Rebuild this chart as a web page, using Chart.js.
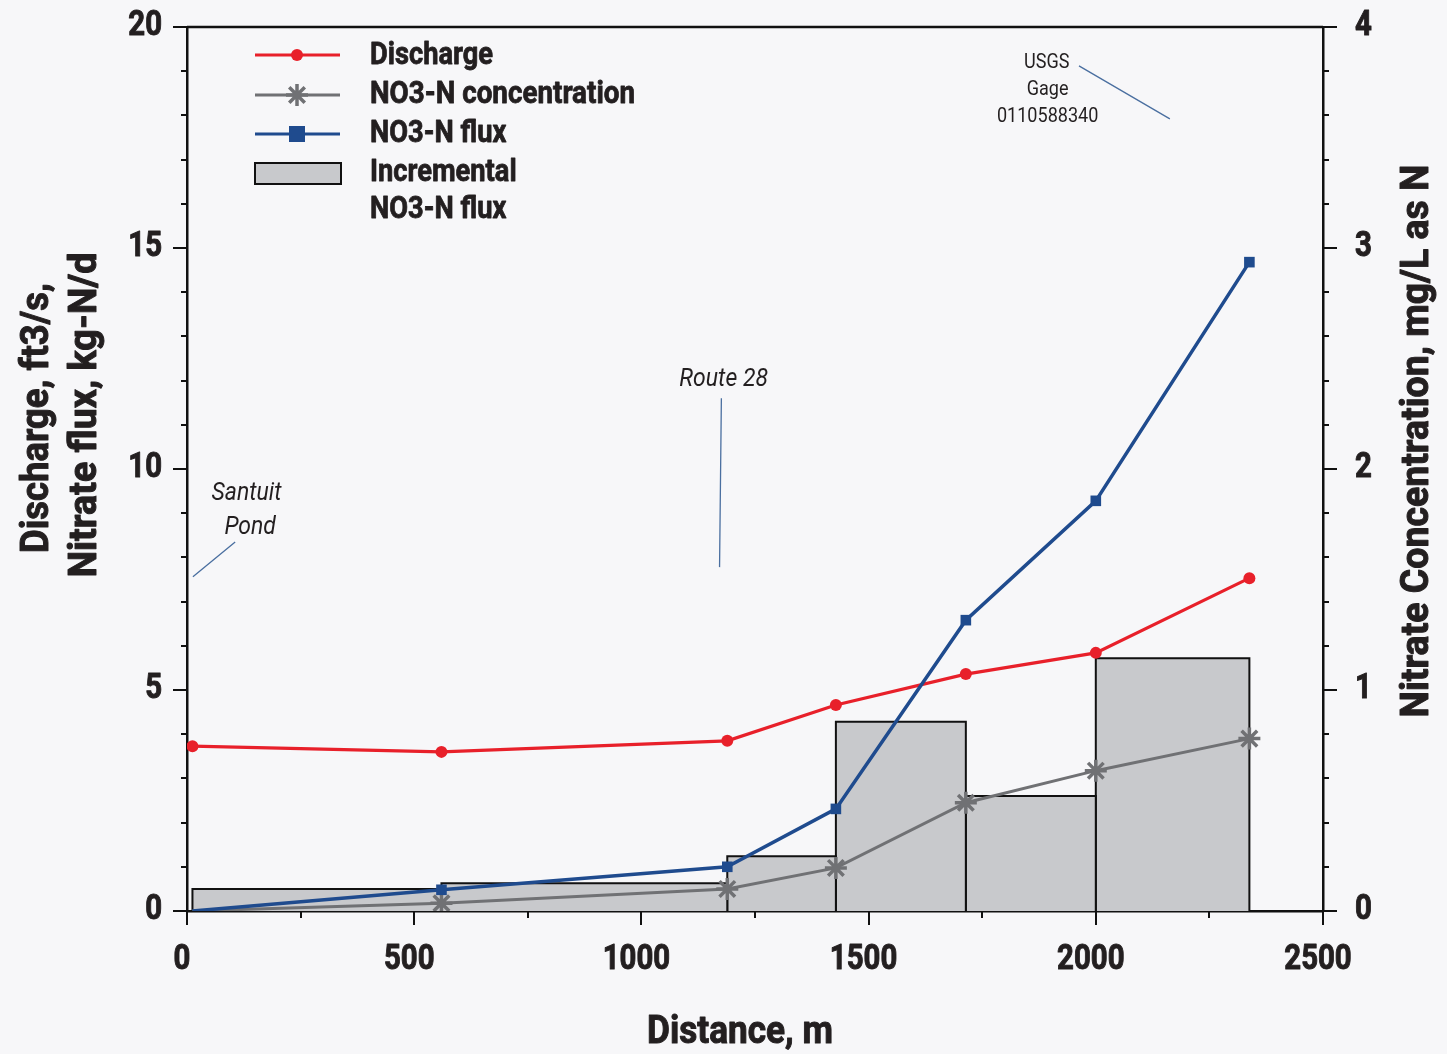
<!DOCTYPE html>
<html>
<head>
<meta charset="utf-8">
<script src="https://cdn.jsdelivr.net/npm/chart.js@4/dist/chart.umd.min.js"></script>
<style>
  html, body { margin: 0; padding: 0; background: #f7f7f9; }
  #wrap { width: 1447px; height: 1054px; }
</style>
</head>
<body>
<div id="wrap"><canvas id="chart" width="1447" height="1054"></canvas></div>
<script>
// distance of each sampling site, m
var distance = [12, 560, 1189, 1428, 1714, 2000, 2338];
// discharge, ft3/s
var discharge = [3.73, 3.6, 3.85, 4.66, 5.36, 5.84, 7.53];
// NO3-N concentration, mg/L as N (right axis)
var concentration = [0, 0.035, 0.1, 0.195, 0.49, 0.635, 0.78];
// NO3-N flux, kg-N/d
var flux = [0, 0.48, 1.0, 2.31, 6.58, 9.28, 14.68];
// incremental flux bars: edges and heights
var incEdges = [12, 560, 1189, 1428, 1714, 2000, 2338];
var incFlux = [0.5, 0.63, 1.24, 4.28, 2.6, 5.72];

var xTicks = [0, 500, 1000, 1500, 2000, 2500];
var leftTicks = [0, 5, 10, 15, 20];
var rightTicks = [0, 1, 2, 3, 4];

var FONT = "Roboto, 'DejaVu Sans Condensed', sans-serif";
var INK = '#231f20';

function pts(xs, ys) {
    return xs.map(function (x, i) { return { x: x, y: ys[i] }; });
}

// one outline per incremental bar
var barSets = incFlux.map(function (h, i) {
    return {
        label: 'Incremental NO3-N flux',
        data: [
            { x: incEdges[i], y: 0 }, { x: incEdges[i], y: h },
            { x: incEdges[i + 1], y: h }, { x: incEdges[i + 1], y: 0 }
        ],
        yAxisID: 'y',
        borderColor: '#111',
        borderWidth: 2,
        backgroundColor: '#c8c9cc',
        fill: 'origin',
        pointRadius: 0,
        order: 10
    };
});

var lineSets = [
    {
        label: 'NO3-N concentration',
        data: pts(distance, concentration),
        yAxisID: 'y2',
        borderColor: '#707174',
        borderWidth: 3,
        pointStyle: 'star',
        pointRadius: function (c) { return c.dataIndex === 0 ? 0 : 11; },
        pointBorderWidth: 3.5,
        pointBorderColor: '#707174',
        order: 3
    },
    {
        label: 'Discharge',
        data: pts(distance, discharge),
        yAxisID: 'y',
        borderColor: '#e8202a',
        backgroundColor: '#e8202a',
        borderWidth: 3.2,
        pointStyle: 'circle',
        pointRadius: 6,
        pointBorderWidth: 0,
        order: 2
    },
    {
        label: 'NO3-N flux',
        data: pts(distance, flux),
        yAxisID: 'y',
        borderColor: '#1f4b8e',
        backgroundColor: '#1f4b8e',
        borderWidth: 3.5,
        pointStyle: 'rect',
        pointRadius: function (c) { return c.dataIndex === 0 ? 0 : 7.5; },
        pointBorderWidth: 0,
        order: 1
    }
];

// condensed text: squeeze horizontally by sx, or fit to width w if sx < 0
function txt(c, s, x, y, font, align, sx, rot, heavy) {
    c.save();
    c.font = font;
    if (sx < 0) sx = -sx / c.measureText(s).width;
    c.translate(x, y);
    if (rot) c.rotate(rot);
    c.scale(sx, 1);
    c.textAlign = align;
    c.textBaseline = 'middle';
    c.fillStyle = INK;
    c.fillText(s, 0, 0);
    if (heavy) {
        c.strokeStyle = INK;
        c.lineWidth = heavy;
        c.lineJoin = 'round';
        c.strokeText(s, 0, 0);
    }
    c.restore();
}

var decor = {
    id: 'decor',
    beforeDraw: function (chart) {
        var c = chart.ctx;
        c.save();
        c.fillStyle = '#f7f7f9';
        c.fillRect(0, 0, chart.width, chart.height);
        c.restore();
    },
    afterDraw: function (chart) {
        var c = chart.ctx, a = chart.chartArea;
        var sx = chart.scales.x, sy = chart.scales.y, sy2 = chart.scales.y2;
        c.save();
        c.strokeStyle = '#111';
        c.lineCap = 'butt';

        // frame top
        c.lineWidth = 2.5;
        c.beginPath(); c.moveTo(a.left, a.top); c.lineTo(a.right, a.top); c.stroke();

        // tick marks (major + minor, outside)
        c.lineWidth = 2;
        c.beginPath();
        var v, p, len;
        for (v = 0; v <= 20; v++) {
            p = Math.round(sy.getPixelForValue(v));
            len = v % 5 === 0 ? 14 : 6;
            c.moveTo(a.left - len, p); c.lineTo(a.left, p);
        }
        for (v = 0; v <= 20; v++) {
            p = Math.round(sy2.getPixelForValue(v / 5));
            len = v % 5 === 0 ? 14 : 6;
            c.moveTo(a.right, p); c.lineTo(a.right + len, p);
        }
        for (v = 0; v <= 10; v++) {
            p = Math.round(sx.getPixelForValue(v * 250));
            len = v % 2 === 0 ? 14 : 7;
            c.moveTo(p, a.bottom); c.lineTo(p, a.bottom + len);
        }
        c.stroke();

        // tick labels
        var tf = 'bold 35px ' + FONT, tsx = 0.84;
        leftTicks.forEach(function (t) {
            txt(c, String(t), 162, sy.getPixelForValue(t) - 1, tf, 'right', tsx, 0, 1);
        });
        rightTicks.forEach(function (t) {
            txt(c, String(t), 1355, sy2.getPixelForValue(t) - 1, tf, 'left', tsx, 0, 1);
        });
        xTicks.forEach(function (t) {
            txt(c, String(t), sx.getPixelForValue(t) - 5, 960, tf, 'center', tsx, 0, 1);
        });

        // axis titles, fitted to the widths in the figure
        var af = 'bold 39px ' + FONT, up = -Math.PI / 2;
        txt(c, 'Distance, m', 740, 1033, af, 'center', -186, 0, 1);
        txt(c, 'Discharge, ft3/s,', 38, 418, af, 'center', -270, up, 1);
        txt(c, 'Nitrate flux, kg-N/d', 86, 415, af, 'center', -325, up, 1);
        txt(c, 'Nitrate Concentration, mg/L as N', 1418, 441, af, 'center', -553, up, 1);

        // site annotations (placed in data units)
        function X(d) { return sx.getPixelForValue(d); }
        function Y(d) { return sy.getPixelForValue(d); }
        c.strokeStyle = '#4a6fa0';
        c.lineWidth = 1.3;
        c.beginPath();
        c.moveTo(X(13), Y(7.56)); c.lineTo(X(106), Y(8.35));
        c.moveTo(X(1176), Y(11.6)); c.lineTo(X(1172), Y(7.78));
        c.moveTo(X(1963), Y(19.12)); c.lineTo(X(2163), Y(17.92));
        c.stroke();
        var itf = 'italic 25px ' + FONT;
        txt(c, 'Santuit', X(131), Y(9.43), itf, 'center', 0.92);
        txt(c, 'Pond', X(139), Y(8.68), itf, 'center', 0.92);
        txt(c, 'Route 28', X(1181), Y(12.01), itf, 'center', 0.92);
        var gf = '21px ' + FONT;
        txt(c, 'USGS', X(1892), Y(19.2), gf, 'center', 0.86);
        txt(c, 'Gage', X(1894), Y(18.59), gf, 'center', 0.86);
        txt(c, '0110588340', X(1894), Y(17.98), gf, 'center', 0.86);

        // legend
        var lx0 = 255, lx1 = 340, mx = 297;
        c.lineWidth = 3;
        c.strokeStyle = '#e8202a';
        c.beginPath(); c.moveTo(lx0, 55); c.lineTo(lx1, 55); c.stroke();
        c.fillStyle = '#e8202a';
        c.beginPath(); c.arc(mx, 55, 6, 0, Math.PI * 2); c.fill();

        c.strokeStyle = '#707174';
        c.beginPath(); c.moveTo(lx0, 95); c.lineTo(lx1, 95); c.stroke();
        c.lineWidth = 3.5;
        Chart.helpers.drawPoint(c, { pointStyle: 'star', radius: 11, borderWidth: 3.5 }, mx, 95);

        c.lineWidth = 3;
        c.strokeStyle = '#1f4b8e';
        c.fillStyle = '#1f4b8e';
        c.beginPath(); c.moveTo(lx0, 134); c.lineTo(lx1, 134); c.stroke();
        c.fillRect(mx - 8, 126, 16, 16);

        c.fillStyle = '#c8c9cc';
        c.fillRect(255, 163, 86, 21);
        c.strokeStyle = '#111';
        c.lineWidth = 2;
        c.strokeRect(255, 163, 86, 21);

        var lf = 'bold 31px ' + FONT, lsx = 0.88;
        txt(c, 'Discharge', 370, 56, lf, 'left', lsx, 0, 0.8);
        txt(c, 'NO3-N concentration', 370, 95, lf, 'left', -265, 0, 0.8);
        txt(c, 'NO3-N flux', 370, 134, lf, 'left', lsx, 0, 0.8);
        txt(c, 'Incremental', 370, 173, lf, 'left', lsx, 0, 0.8);
        txt(c, 'NO3-N flux', 370, 210, lf, 'left', lsx, 0, 0.8);
        c.restore();
    }
};

new Chart(document.getElementById('chart').getContext('2d'), {
    type: 'line',
    data: { datasets: barSets.concat(lineSets) },
    options: {
        responsive: false,
        devicePixelRatio: 1,
        animation: false,
        layout: { padding: { top: 27, left: 0, right: 0, bottom: 0 } },
        plugins: { legend: { display: false }, tooltip: { enabled: false } },
        elements: { line: { tension: 0 } },
        scales: {
            x: {
                type: 'linear', min: 0, max: 2500,
                afterFit: function (s) { s.height = 143; },
                ticks: { display: false },
                grid: { display: true, drawOnChartArea: false, drawTicks: false },
                border: { display: true, color: '#111', width: 2.5 }
            },
            y: {
                type: 'linear', position: 'left', min: 0, max: 20,
                afterFit: function (s) { s.width = 187; },
                ticks: { display: false },
                grid: { display: true, drawOnChartArea: false, drawTicks: false },
                border: { display: true, color: '#111', width: 2.5 }
            },
            y2: {
                type: 'linear', position: 'right', min: 0, max: 4,
                afterFit: function (s) { s.width = 124; },
                ticks: { display: false },
                grid: { display: true, drawOnChartArea: false, drawTicks: false },
                border: { display: true, color: '#111', width: 2.5 }
            }
        }
    },
    plugins: [decor]
});
</script>
</body>
</html>
